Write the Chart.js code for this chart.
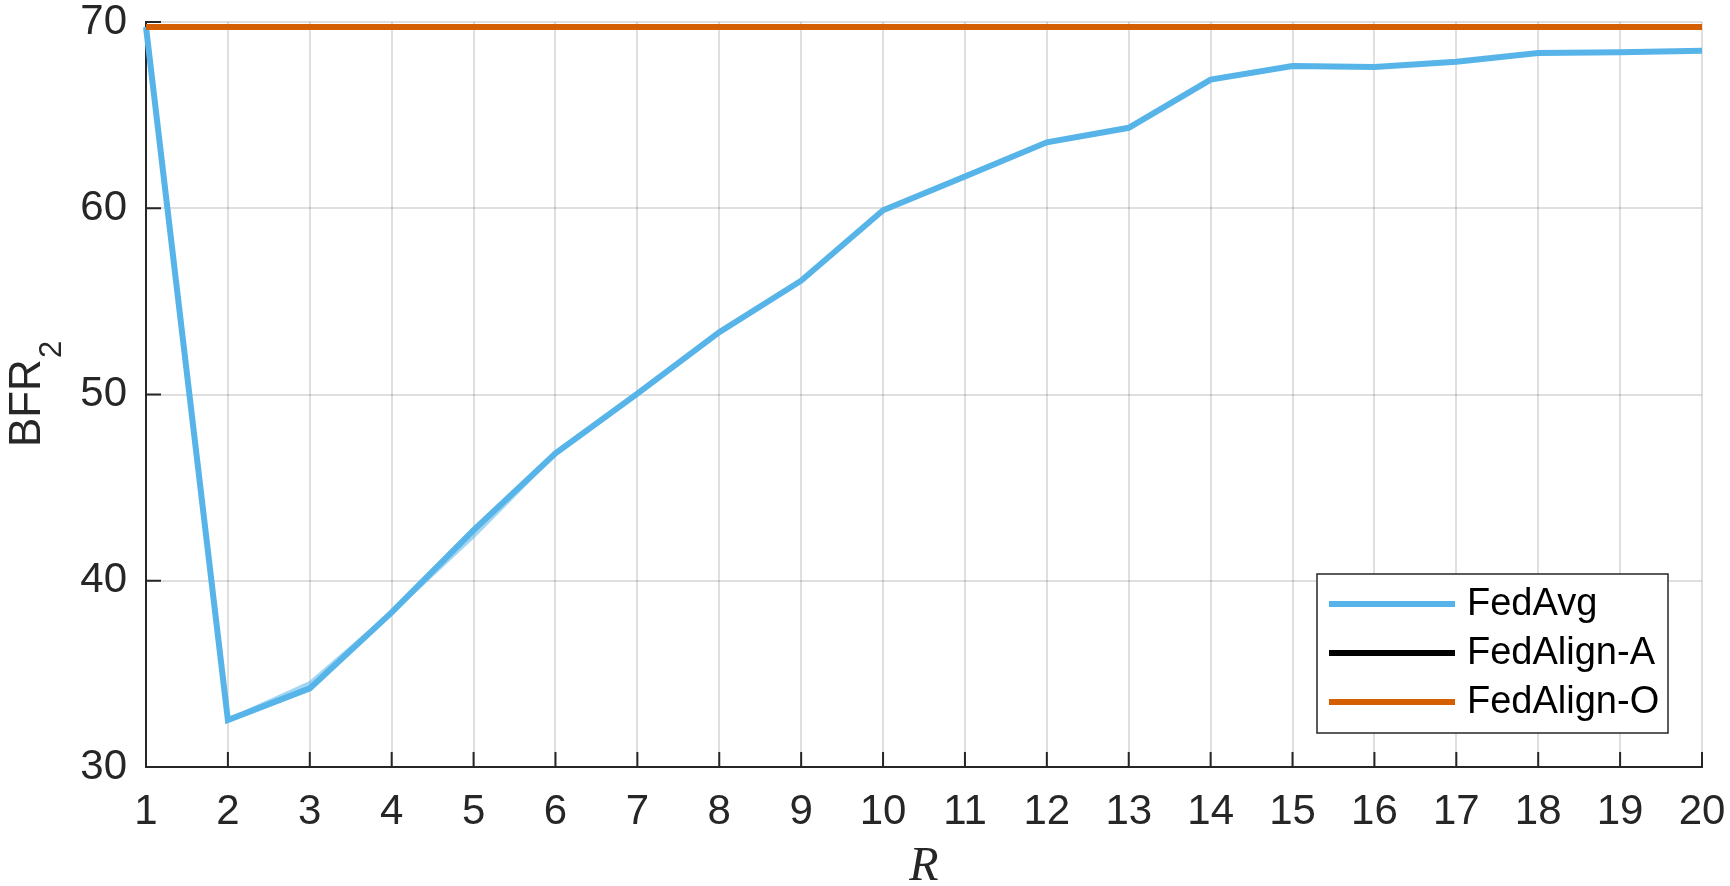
<!DOCTYPE html>
<html>
<head>
<meta charset="utf-8">
<title>BFR2 vs R</title>
<script src="https://cdn.jsdelivr.net/npm/chart.js@4.4.1/dist/chart.umd.min.js"></script>
<style>
  html, body { margin: 0; padding: 0; background: #fff; }
  #wrap { width: 1730px; height: 886px; position: relative; }
</style>
</head>
<body>
<div id="wrap"><canvas id="chartBfr" width="1730" height="886"></canvas></div>
<script>
  // data
  const rounds = [1, 2, 3, 4, 5, 6, 7, 8, 9, 10, 11, 12, 13, 14, 15, 16, 17, 18, 19, 20];
  const fedAvg = [69.73, 32.52, 34.22, 38.30, 42.72, 46.84, 50.05, 53.35, 56.11, 59.89,
                  61.70, 63.54, 64.32, 66.91, 67.64, 67.59, 67.86, 68.33, 68.38, 68.45];
  // faint second FedAvg trace, only visible where it separates
  const fedAvgRun2 = [69.73, 32.52, 34.50, 38.30, 42.40, 46.84, 50.05, 53.35, 56.11, 59.89,
                      61.70, 63.54, 64.32, 66.91, 67.64, 67.59, 67.86, 68.33, 68.38, 68.45];
  const fedAlignA = [69.73, 69.73, 69.73, 69.73, 69.73, 69.73, 69.73, 69.73, 69.73, 69.73,
                     69.73, 69.73, 69.73, 69.73, 69.73, 69.73, 69.73, 69.73, 69.73, 69.73];
  const fedAlignO = [69.73, 69.73, 69.73, 69.73, 69.73, 69.73, 69.73, 69.73, 69.73, 69.73,
                     69.73, 69.73, 69.73, 69.73, 69.73, 69.73, 69.73, 69.73, 69.73, 69.73];
  const yTicks = [30, 40, 50, 60, 70];

  const axisColor = '#262626';
  const sansFont = "'Liberation Sans', Arial, Helvetica, sans-serif";

  // inner ticks, axis titles and the boxed legend
  const decorations = {
    id: 'decorations',
    beforeDatasetsDraw(chart) {
      const { ctx, chartArea: a, scales: { x, y } } = chart;
      ctx.save();
      ctx.strokeStyle = axisColor;
      ctx.lineWidth = 2;
      ctx.beginPath();
      rounds.forEach((r, i) => {
        const px = x.getPixelForValue(i);
        ctx.moveTo(px, a.bottom);
        ctx.lineTo(px, a.bottom - 15);
      });
      yTicks.forEach(v => {
        const py = y.getPixelForValue(v);
        ctx.moveTo(a.left, py);
        ctx.lineTo(a.left + 15, py);
      });
      ctx.stroke();
      ctx.restore();
    },
    afterDraw(chart) {
      const { ctx, chartArea: a } = chart;
      ctx.save();

      // x title
      ctx.fillStyle = axisColor;
      ctx.font = "italic 48px 'Liberation Serif', 'DejaVu Serif', serif";
      ctx.textAlign = 'center';
      ctx.textBaseline = 'alphabetic';
      ctx.fillText('R', (a.left + a.right) / 2, 880);

      // y title: BFR with subscript 2
      ctx.translate(40, (a.top + a.bottom) / 2);
      ctx.rotate(-Math.PI / 2);
      ctx.font = '44px ' + sansFont;
      const w1 = ctx.measureText('BFR').width;
      ctx.font = '31px ' + sansFont;
      const w2 = ctx.measureText('2').width;
      const start = -(w1 + w2) / 2;
      ctx.textAlign = 'left';
      ctx.font = '44px ' + sansFont;
      ctx.fillText('BFR', start, 0);
      ctx.font = '31px ' + sansFont;
      ctx.fillText('2', start + w1 + 1, 21);
      ctx.restore();

      // legend
      ctx.save();
      const box = { x: 1317, y: 574, w: 351, h: 159 };
      ctx.fillStyle = '#fff';
      ctx.fillRect(box.x, box.y, box.w, box.h);
      ctx.strokeStyle = axisColor;
      ctx.lineWidth = 1.5;
      ctx.strokeRect(box.x, box.y, box.w, box.h);
      ctx.font = '38px ' + sansFont;
      ctx.textBaseline = 'middle';
      ctx.textAlign = 'left';
      const shown = chart.data.datasets.filter(d => !d.hideInLegend);
      shown.forEach((d, i) => {
        const rowY = 604 + i * 49;
        ctx.strokeStyle = d.borderColor;
        ctx.lineWidth = 6;
        ctx.beginPath();
        ctx.moveTo(1329, rowY);
        ctx.lineTo(1455, rowY);
        ctx.stroke();
        ctx.fillStyle = '#000';
        ctx.fillText(d.label, 1467, rowY + 1);
      });
      ctx.restore();
    }
  };

  const ctxBfr = document.getElementById('chartBfr').getContext('2d');
  const chartBfr = new Chart(ctxBfr, {
    type: 'line',
    data: {
      labels: rounds,
      datasets: [
        { label: 'FedAvg', data: fedAvg, borderColor: '#56B4E9', borderWidth: 6, order: 3 },
        { label: 'FedAlign-A', data: fedAlignA, borderColor: '#000000', borderWidth: 6, order: 2 },
        { label: 'FedAlign-O', data: fedAlignO, borderColor: '#D55E00', borderWidth: 6, order: 1 },
        { label: 'FedAvg (run 2)', data: fedAvgRun2, borderColor: 'rgba(86,180,233,0.55)',
          borderWidth: 4, order: 4, hideInLegend: true }
      ]
    },
    options: {
      responsive: false,
      animation: false,
      devicePixelRatio: 1,
      layout: { padding: { left: 0, right: 28, top: 22, bottom: 0 } },
      elements: {
        point: { radius: 0, hoverRadius: 0 },
        line: { tension: 0, borderCapStyle: 'butt', borderJoinStyle: 'miter' }
      },
      plugins: {
        legend: { display: false },
        tooltip: { enabled: false },
        title: { display: false }
      },
      scales: {
        x: {
          type: 'category',
          offset: false,
          grid: { color: 'rgba(38,38,38,0.15)', lineWidth: 2, drawTicks: false },
          border: { display: true, color: axisColor, width: 2 },
          ticks: {
            color: axisColor,
            font: { family: sansFont, size: 42 },
            padding: 20,
            maxRotation: 0,
            autoSkip: false
          },
          afterFit(scale) {
            scale.height = 119;
            scale.paddingLeft = 0;
            scale.paddingRight = 0;
          }
        },
        y: {
          min: 30,
          max: 70,
          afterBuildTicks(scale) {
            scale.ticks = yTicks.map(v => ({ value: v }));
          },
          grid: { color: 'rgba(38,38,38,0.15)', lineWidth: 2, drawTicks: false },
          border: { display: true, color: axisColor, width: 2 },
          ticks: {
            color: axisColor,
            font: { family: sansFont, size: 42 },
            padding: 19
          },
          afterFit(scale) {
            scale.width = 146;
            scale.paddingTop = 0;
            scale.paddingBottom = 0;
          }
        }
      }
    },
    plugins: [decorations]
  });
</script>
</body>
</html>
